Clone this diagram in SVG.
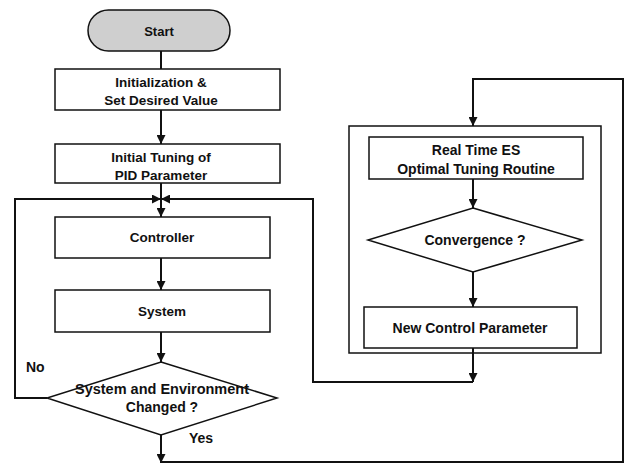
<svg xmlns="http://www.w3.org/2000/svg" width="626" height="464" viewBox="0 0 626 464">
<defs>
<style>
.box{fill:#fff;stroke:#111;stroke-width:1.5}
.term{fill:#cfcfcf;stroke:#111;stroke-width:1.5}
.t{font-family:"Liberation Sans",Arial,sans-serif;font-size:13.5px;font-weight:bold;fill:#111;text-anchor:middle;dominant-baseline:central}
.r{font-size:14px}
.lbl{font-family:"Liberation Sans",Arial,sans-serif;font-size:14px;font-weight:bold;fill:#111}
.ln{fill:none;stroke:#111;stroke-width:2}
</style>
<marker id="ah" viewBox="0 0 10 10" refX="10" refY="5" markerWidth="9" markerHeight="9" markerUnits="userSpaceOnUse" orient="auto">
<path d="M0,0 L10,5 L0,10 z" fill="#111"/>
</marker>
</defs>
<rect width="626" height="464" fill="#fff"/>
<g id="start"><rect class="term" x="88" y="10" width="142" height="41" rx="20.5"/><text class="t" x="159" y="31" style="font-size:13px">Start</text></g>
<g id="init"><rect class="box" x="55" y="69" width="225" height="41"/><text class="t" x="161" y="82">Initialization &amp;</text><text class="t" x="161" y="100">Set Desired Value</text></g>
<g id="tuning"><rect class="box" x="55" y="144" width="225" height="39"/><text class="t" x="161" y="157">Initial Tuning of</text><text class="t" x="161" y="175">PID Parameter</text></g>
<g id="controller"><rect class="box" x="55" y="217" width="215" height="41"/><text class="t" x="162" y="237">Controller</text></g>
<g id="system"><rect class="box" x="55" y="290" width="215" height="42"/><text class="t" x="162" y="311">System</text></g>
<g id="changed"><polygon class="box" points="161,362 277,398 161,435 47,398"/><text class="t" x="162" y="389" style="font-size:14.5px">System and Environment</text><text class="t" x="162" y="407" style="font-size:14px">Changed ?</text></g>
<g id="es-group"><rect class="box" x="349" y="126" width="252" height="227"/></g>
<g id="es"><rect class="box" x="369" y="137" width="214" height="42"/><text class="t r" x="476" y="150">Real Time ES</text><text class="t r" x="476" y="169">Optimal Tuning Routine</text></g>
<g id="convergence"><polygon class="box" points="473,208 582,240 473,272 368,240"/><text class="t r" x="475" y="240">Convergence ?</text></g>
<g id="newparam"><rect class="box" x="364" y="307" width="213" height="41"/><text class="t r" x="470" y="328">New Control Parameter</text></g>
<g id="connectors">
<line class="ln" x1="161" y1="51" x2="161" y2="69"/>
<line class="ln" x1="161" y1="110" x2="161" y2="144" marker-end="url(#ah)"/>
<line class="ln" x1="161" y1="183" x2="161" y2="217" marker-end="url(#ah)"/>
<line class="ln" x1="161" y1="258" x2="161" y2="290" marker-end="url(#ah)"/>
<line class="ln" x1="161" y1="332" x2="161" y2="362" marker-end="url(#ah)"/>
<polyline class="ln" points="47,398 15,398 15,199 161,199" marker-end="url(#ah)"/>
<polyline class="ln" points="473,348 473,382" marker-end="url(#ah)"/>
<polyline class="ln" points="473,382 313,382 313,199 161,199" marker-end="url(#ah)"/>
<line class="ln" x1="161" y1="435" x2="161" y2="463" marker-end="url(#ah)"/>
<polyline class="ln" points="161,462 623,462 623,79 473,79 473,126" marker-end="url(#ah)"/>
<line class="ln" x1="473" y1="179" x2="473" y2="208" marker-end="url(#ah)"/>
<line class="ln" x1="473" y1="272" x2="473" y2="307" marker-end="url(#ah)"/>
<text class="lbl" x="26" y="372">No</text>
<text class="lbl" x="189" y="443">Yes</text>
</g>
</svg>
